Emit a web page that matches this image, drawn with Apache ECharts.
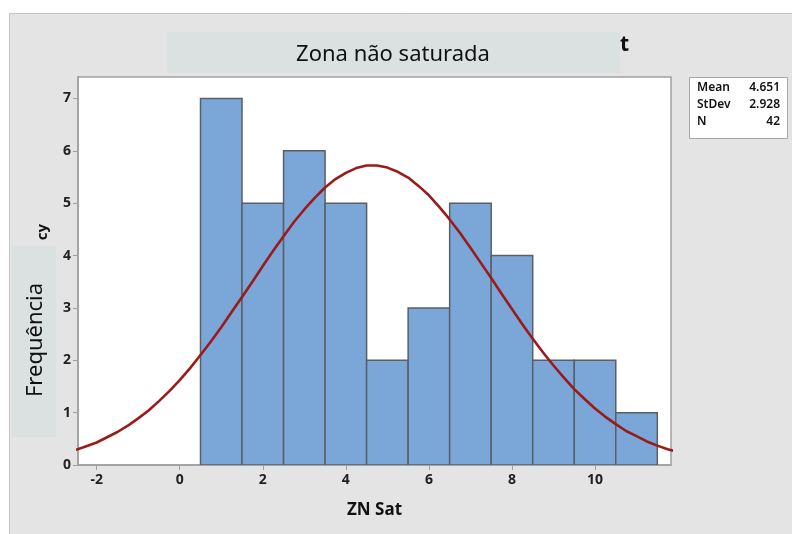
<!DOCTYPE html>
<html>
<head>
<meta charset="utf-8">
<script src="https://cdn.jsdelivr.net/npm/echarts@6/dist/echarts.min.js"></script>
<style>html,body{margin:0;padding:0;background:#fff}#c{width:792px;height:534px}</style>
</head>
<body>
<div id="c"></div>
<script>
// Histogram bins (bin centers, width 1) and counts
const binCenters = [1, 2, 3, 4, 5, 6, 7, 8, 9, 10, 11];
const binCounts  = [7, 5, 6, 5, 2, 3, 5, 4, 2, 2, 1];
const binWidth = 1;
// Fitted curve
const curveX = [-2.5,-2.25,-2,-1.75,-1.5,-1.25,-1,-0.75,-0.5,-0.25,0,0.25,0.5,0.75,1,1.25,1.5,1.75,2,2.25,2.5,2.75,3,3.25,3.5,3.75,4,4.25,4.5,4.75,5,5.25,5.5,5.75,6,6.25,6.5,6.75,7,7.25,7.5,7.75,8,8.25,8.5,8.75,9,9.25,9.5,9.75,10,10.25,10.5,10.75,11,11.25,11.5,11.75,12];
const curveY = [0.29,0.36,0.43,0.53,0.63,0.75,0.89,1.04,1.22,1.41,1.62,1.85,2.10,2.36,2.63,2.92,3.21,3.50,3.80,4.09,4.37,4.64,4.88,5.10,5.30,5.46,5.58,5.67,5.72,5.72,5.68,5.60,5.49,5.33,5.15,4.93,4.69,4.43,4.15,3.86,3.57,3.27,2.98,2.69,2.41,2.15,1.90,1.67,1.45,1.26,1.08,0.92,0.78,0.65,0.55,0.45,0.37,0.30,0.25];
const xTicks = [-2, 0, 2, 4, 6, 8, 10];
const yTicks = [0, 1, 2, 3, 4, 5, 6, 7];
const statsLabels = ['Mean', 'StDev', 'N'];
const statsValues = ['4.651', '2.928', '42'];

const FONT = '"Noto Sans", "Open Sans", sans-serif';
const chart = echarts.init(document.getElementById('c'), null, {renderer: 'canvas'});

const barData = binCenters.map((c, i) => [c - binWidth / 2, c + binWidth / 2, binCounts[i]]);
const lineData = curveX.map((x, i) => [x, curveY[i]]);

const statsGraphics = [];
statsLabels.forEach((l, i) => {
  statsGraphics.push({type: 'text', left: 697, top: 82 + i * 17, z: 12,
    style: {text: l, font: '600 12px ' + FONT, fill: '#111'}});
  statsGraphics.push({type: 'text', right: 12, top: 82 + i * 17, z: 12,
    style: {text: statsValues[i], font: '600 12px ' + FONT, fill: '#111', textAlign: 'right'}});
});

chart.setOption({
  animation: false,
  backgroundColor: '#ffffff',
  graphic: [
    {type: 'rect', z: -10, shape: {x: 9.5, y: 13.5, width: 800, height: 540},
      style: {fill: '#e4e4e4', stroke: '#c4c4c4', lineWidth: 1}},
    {type: 'text', left: 620, top: 35, z: 5,
      style: {text: 't', font: 'bold 21px ' + FONT, fill: '#111'}},
    {type: 'rect', z: 6, shape: {x: 167, y: 32, width: 453, height: 41},
      style: {fill: '#dbe0e0'}},
    {type: 'text', z: 7, x: 393, y: 55,
      style: {text: 'Zona não saturada', font: '22px ' + FONT, fill: '#111', textAlign: 'center', textVerticalAlign: 'middle'}},
    {type: 'text', z: 5, x: 43, y: 232, rotation: Math.PI / 2,
      style: {text: 'cy', font: 'bold 15px ' + FONT, fill: '#111', textAlign: 'center', textVerticalAlign: 'middle'}},
    {type: 'rect', z: 6, shape: {x: 12, y: 246, width: 44, height: 191},
      style: {fill: '#dbe0e0'}},
    {type: 'text', z: 7, x: 36, y: 340, rotation: Math.PI / 2,
      style: {text: 'Frequência', font: '22px ' + FONT, fill: '#111', textAlign: 'center', textVerticalAlign: 'middle'}},
    {type: 'rect', z: 10, shape: {x: 689.5, y: 77.5, width: 98, height: 61},
      style: {fill: '#ffffff', stroke: '#a8a8a8', lineWidth: 1}},
    ...statsGraphics
  ],
  grid: {left: 78, top: 77, right: 121, bottom: 69, show: true,
    backgroundColor: '#ffffff', borderColor: '#a0a0a0', borderWidth: 1.5},
  xAxis: {
    type: 'value', min: -2.45, max: 11.83,
    name: 'ZN Sat', nameLocation: 'middle', nameGap: 37,
    nameTextStyle: {fontFamily: FONT, fontSize: 17, fontWeight: 'bold', color: '#111'},
    axisLine: {show: true, onZero: false, lineStyle: {color: '#a0a0a0', width: 1.5}},
    axisTick: {show: true, length: 5, customValues: xTicks, lineStyle: {color: '#a0a0a0'}},
    axisLabel: {customValues: xTicks, fontFamily: FONT, fontSize: 14, fontWeight: 'bold', color: '#222', margin: 8},
    splitLine: {show: false}
  },
  yAxis: {
    type: 'value', min: 0, max: 7.41,
    axisLine: {show: true, onZero: false, lineStyle: {color: '#a0a0a0', width: 1.5}},
    axisTick: {show: true, length: 5, customValues: yTicks, lineStyle: {color: '#a0a0a0'}},
    axisLabel: {customValues: yTicks, fontFamily: FONT, fontSize: 14, fontWeight: 'bold', color: '#222', margin: 7},
    splitLine: {show: false}
  },
  series: [
    {
      type: 'custom', z: 2, clip: true,
      data: barData,
      renderItem: function (params, api) {
        const p0 = api.coord([api.value(0), api.value(2)]);
        const p1 = api.coord([api.value(1), 0]);
        return {type: 'rect',
          shape: {x: p0[0], y: p0[1], width: p1[0] - p0[0], height: p1[1] - p0[1]},
          style: {fill: '#7aa7d8', stroke: '#5a5f66', lineWidth: 1.5}};
      }
    },
    {
      type: 'line', z: 3, clip: true, smooth: false, symbol: 'none',
      data: lineData,
      lineStyle: {color: '#9b1a1a', width: 2.6, join: 'round'}
    }
  ]
});
</script>
</body>
</html>
